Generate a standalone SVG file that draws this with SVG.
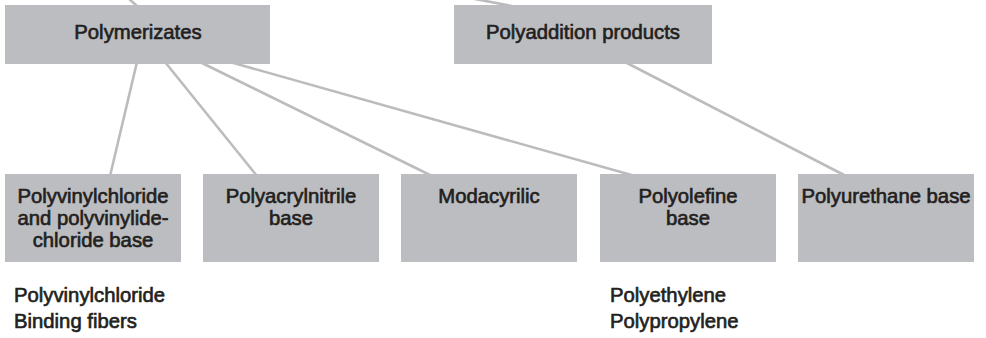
<svg xmlns="http://www.w3.org/2000/svg" width="986" height="338" viewBox="0 0 986 338">
  <style>
    .box { fill: #bcbdc0; }
    .lbl, .note { font-family: "Liberation Sans", Arial, sans-serif; font-size: 20.3px; fill: #231f20; stroke: #231f20; stroke-width: 0.65; }
    .lbl { text-anchor: middle; }
    .link { stroke: #bcbcbf; stroke-width: 2.6; fill: none; }
  </style>
  <rect width="986" height="338" fill="#ffffff"/>

  <!-- connectors -->
  <g id="connectors">
    <line class="link" x1="119" y1="-10" x2="137" y2="6"/>
    <line class="link" x1="454" y1="-5" x2="512" y2="6"/>
    <line class="link" x1="137" y1="62" x2="110" y2="176"/>
    <line class="link" x1="165" y1="62" x2="257" y2="176"/>
    <line class="link" x1="200" y1="62" x2="432" y2="176"/>
    <line class="link" x1="230" y1="62" x2="635" y2="176"/>
    <line class="link" x1="625" y1="62" x2="846" y2="176"/>
  </g>

  <!-- top level -->
  <g id="polymerizates">
    <rect class="box" x="5" y="5" width="265" height="59"/>
    <text class="lbl" x="138" y="39">Polymerizates</text>
  </g>
  <g id="polyaddition">
    <rect class="box" x="454" y="5" width="258" height="59"/>
    <text class="lbl" x="583" y="39">Polyaddition products</text>
  </g>

  <!-- fibre groups -->
  <g id="pvc">
    <rect class="box" x="5" y="174" width="176" height="88"/>
    <text class="lbl" x="93" y="203">Polyvinylchloride</text>
    <text class="lbl" x="93" y="225">and polyvinylide-</text>
    <text class="lbl" x="93" y="247">chloride base</text>
  </g>
  <g id="pan">
    <rect class="box" x="203" y="174" width="176" height="88"/>
    <text class="lbl" x="291" y="203">Polyacrylnitrile</text>
    <text class="lbl" x="291" y="225">base</text>
  </g>
  <g id="modacrylic">
    <rect class="box" x="401" y="174" width="176" height="88"/>
    <text class="lbl" x="489" y="203">Modacyrilic</text>
  </g>
  <g id="polyolefine">
    <rect class="box" x="600" y="174" width="176" height="88"/>
    <text class="lbl" x="688" y="203">Polyolefine</text>
    <text class="lbl" x="688" y="225">base</text>
  </g>
  <g id="polyurethane">
    <rect class="box" x="798" y="174" width="176" height="88"/>
    <text class="lbl" x="886" y="203">Polyurethane base</text>
  </g>

  <!-- examples -->
  <g id="pvc-examples">
    <text class="note" x="14" y="302">Polyvinylchloride</text>
    <text class="note" x="14" y="328">Binding fibers</text>
  </g>
  <g id="polyolefine-examples">
    <text class="note" x="610" y="302">Polyethylene</text>
    <text class="note" x="610" y="328">Polypropylene</text>
  </g>
</svg>
